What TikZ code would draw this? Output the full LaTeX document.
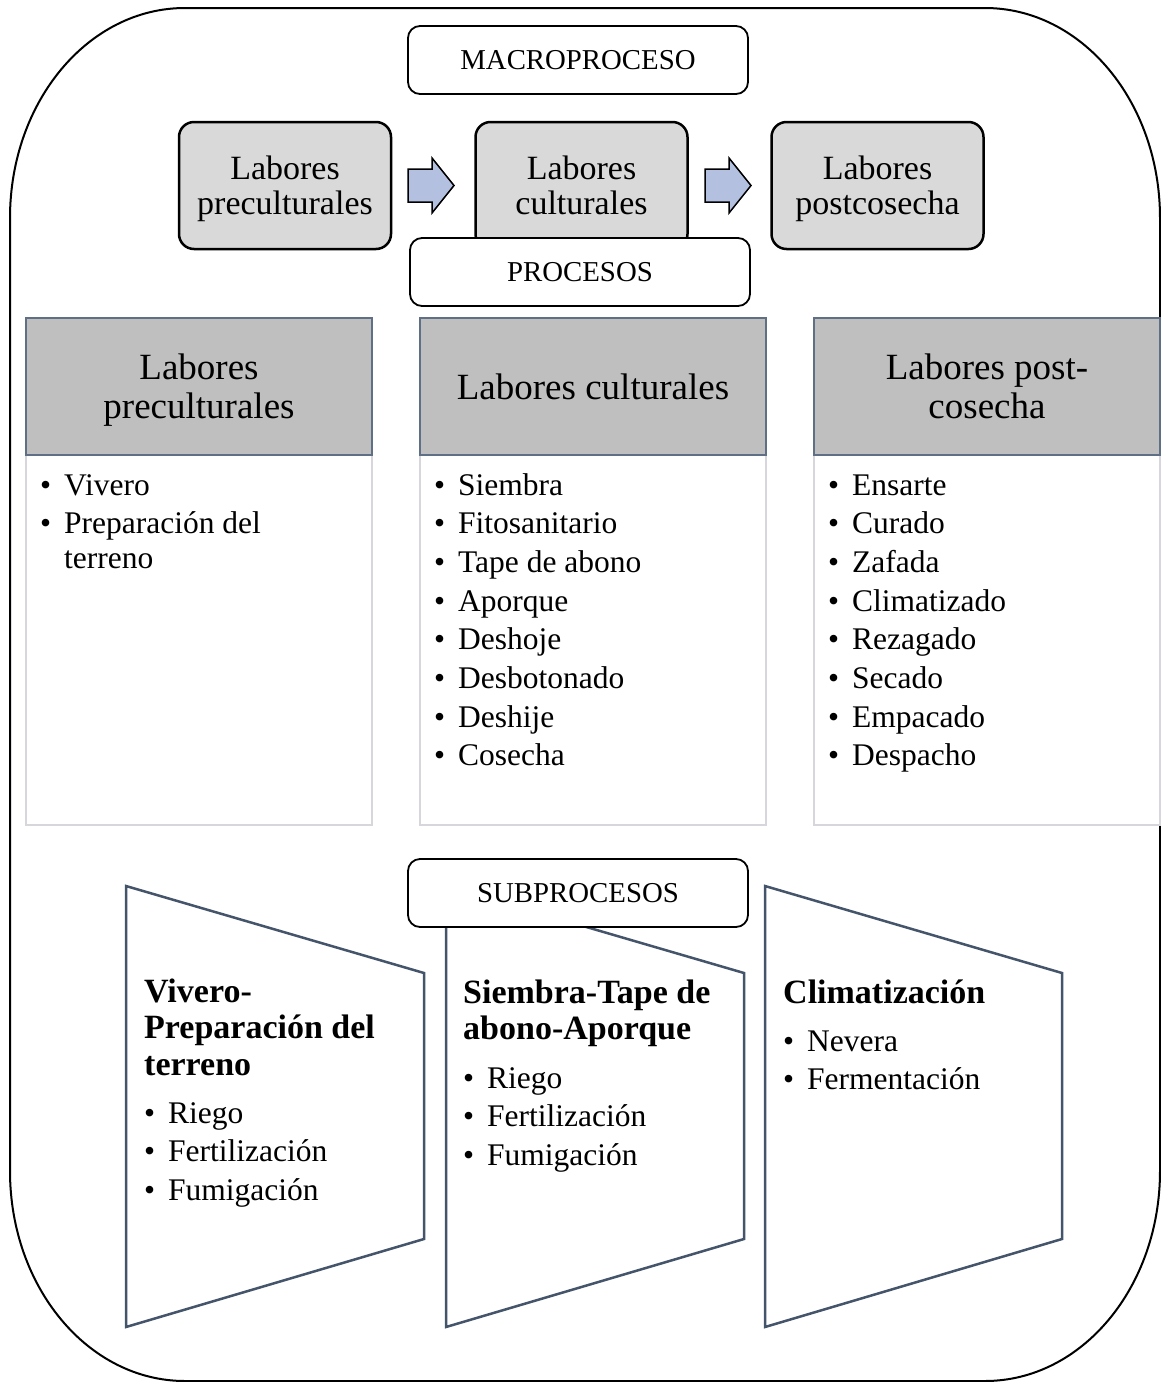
\documentclass[tikz,border=0pt]{standalone}
\usepackage{fontspec}
\setmainfont{Liberation Serif}
\definecolor{topgray}{HTML}{D9D9D9}
\definecolor{arrowblue}{HTML}{B4C0E0}
\definecolor{hdrgray}{HTML}{BFBFBF}
\definecolor{hdrline}{HTML}{5F6F85}
\definecolor{bodyline}{HTML}{D6D6DC}
\definecolor{trapline}{HTML}{44546A}
\newcommand\bul{\noindent\hangindent=24pt\hangafter=1\makebox[24pt][l]{\textbullet}}
\newcommand\blist[2]{\parbox[t]{#1}{\fontsize{31.5}{35}\selectfont\raggedright\setlength\parskip{3.7pt}#2}}
\newcommand\nd[1]{\raisebox{0pt}[\height][0pt]{#1}}
\begin{document}
\begin{tikzpicture}[x=1pt,y=-1pt,
 topbox/.style={draw=black, line width=2.5pt, rounded corners=15pt, fill=topgray, minimum width=212pt, minimum height=127pt, align=center, font=\fontsize{34}{35}\selectfont, inner sep=0pt},
 labelbox/.style={draw=black, line width=1.8pt, rounded corners=12pt, fill=white, minimum width=340pt, minimum height=68pt, font=\fontsize{28.8}{30}\selectfont, inner sep=0pt},
 hdr/.style={draw=hdrline, line width=1.5pt, fill=hdrgray, minimum width=346pt, minimum height=137pt, align=center, font=\fontsize{37}{39}\selectfont, inner sep=0pt},
 body/.style={draw=bodyline, line width=2pt, fill=white, minimum width=346pt, minimum height=370pt, inner sep=0pt},
 trap/.style={draw=trapline, line width=2.5pt, fill=white, line join=miter},
 blockarrow/.style={draw=black, line width=1.5pt, fill=arrowblue, line join=miter},
 frame/.style={draw=black, line width=2pt},
 lst/.style={anchor=base west, inner sep=0pt},
 ttl/.style={anchor=base west, inner sep=0pt, font=\fontsize{34}{36.5}\selectfont\bfseries},
]
\useasboundingbox (0,0) rectangle (1161,1382);
% outer frame
\draw[frame] (185,8) -- (985,8)
  .. controls (1082,8) and (1160,102) .. (1160,218)
  -- (1160,1171)
  .. controls (1160,1287) and (1082,1381) .. (985,1381)
  -- (185,1381)
  .. controls (88,1381) and (10,1287) .. (10,1171)
  -- (10,218)
  .. controls (10,102) and (88,8) .. (185,8) -- cycle;

% macroprocess
\node[topbox] (t1) at (285,185.5) {Labores\\\nd{preculturales}};
\node[topbox] (t2) at (581.5,185.5) {Labores\\\nd{culturales}};
\node[topbox] (t3) at (877.5,185.5) {Labores\\\nd{postcosecha}};
\draw[blockarrow] (408,169) -- (432,169) -- (432,158) -- (454,185.5) -- (432,213) -- (432,202) -- (408,202) -- cycle;
\draw[blockarrow] (705,169) -- (729,169) -- (729,158) -- (751,185.5) -- (729,213) -- (729,202) -- (705,202) -- cycle;
\node[labelbox] (macro) at (578,60) {MACROPROCESO};
\node[labelbox] (proc) at (580,272) {PROCESOS};

% processes
\node[body] (b1) at (199,640) {};
\node[body] (b2) at (593,640) {};
\node[body] (b3) at (987,640) {};
\node[hdr] (h1) at (199,386.5) {Labores\\\nd{preculturales}};
\node[hdr] (h2) at (593,386.5) {Labores culturales};
\node[hdr] (h3) at (987,386.5) {Labores post-\\\nd{cosecha}};
\node[lst] (l1) at (40,495) {\blist{320pt}{\bul Vivero\par\bul Preparación del\break terreno}};
\node[lst] (l2) at (434,495) {\blist{320pt}{\bul Siembra\par\bul Fitosanitario\par\bul Tape de abono\par\bul Aporque\par\bul Deshoje\par\bul Desbotonado\par\bul Deshije\par\bul Cosecha}};
\node[lst] (l3) at (828,495) {\blist{320pt}{\bul Ensarte\par\bul Curado\par\bul Zafada\par\bul Climatizado\par\bul Rezagado\par\bul Secado\par\bul Empacado\par\bul Despacho}};

% subprocesses
\draw[trap] (126,886) -- (424,973) -- (424,1239) -- (126,1327) -- cycle;
\draw[trap] (446,886) -- (744,973) -- (744,1239) -- (446,1327) -- cycle;
\draw[trap] (765,886) -- (1062,973) -- (1062,1239) -- (765,1327) -- cycle;
\node[labelbox] (sub) at (578,893) {SUBPROCESOS};
\node[ttl] (s1t) at (144,1002) {\parbox[t]{280pt}{\raggedright Vivero-\\Preparación del\\terreno}};
\node[lst] (s1l) at (144,1123) {\blist{270pt}{\bul Riego\par\bul Fertilización\par\bul Fumigación}};
\node[ttl] (s2t) at (463,1003) {\parbox[t]{280pt}{\raggedright Siembra-Tape de\\abono-Aporque}};
\node[lst] (s2l) at (463,1088) {\blist{270pt}{\bul Riego\par\bul Fertilización\par\bul Fumigación}};
\node[ttl] (s3t) at (783,1003) {Climatización};
\node[lst] (s3l) at (783,1051) {\blist{270pt}{\bul Nevera\par\bul Fermentación}};
\end{tikzpicture}
\end{document}
